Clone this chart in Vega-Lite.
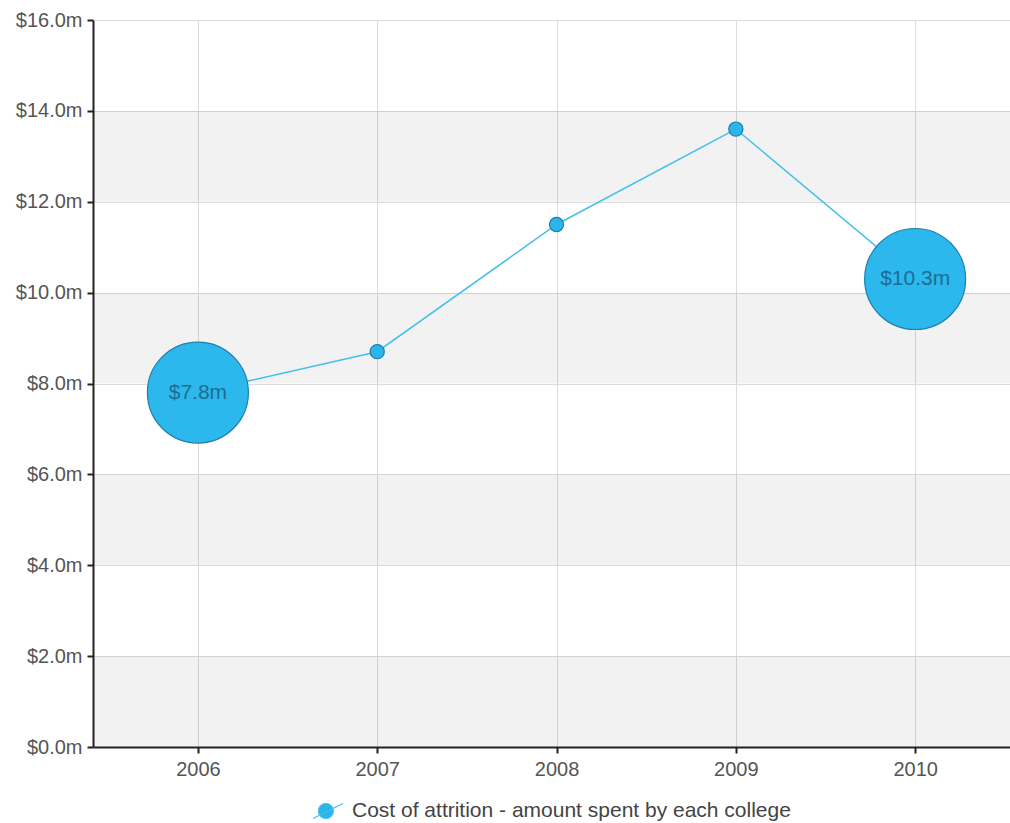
{
  "$schema": "https://vega.github.io/schema/vega-lite/v6.json",
  "width": 917,
  "height": 727,
  "autosize": "none",
  "padding": {"left": 93, "top": 20, "right": 0, "bottom": 76},
  "background": "white",
  "config": {
    "view": {"stroke": null},
    "font": "Liberation Sans",
    "axis": {
      "labelFont": "Liberation Sans",
      "labelFontSize": 20,
      "labelColor": "#555555",
      "domainColor": "#222222",
      "domainWidth": 2,
      "tickColor": "#222222",
      "tickWidth": 2,
      "tickSize": 6,
      "gridColor": "#dcdcdc",
      "gridWidth": 1,
      "title": null
    }
  },
  "datasets": {
    "main": [
      {"year": 2006, "cost": 7.8, "label": "$7.8m"},
      {"year": 2007, "cost": 8.7},
      {"year": 2008, "cost": 11.5},
      {"year": 2009, "cost": 13.6},
      {"year": 2010, "cost": 10.3, "label": "$10.3m"}
    ],
    "bands": [
      {"lo": 0, "hi": 2},
      {"lo": 4, "hi": 6},
      {"lo": 8, "hi": 10},
      {"lo": 12, "hi": 14}
    ]
  },
  "layer": [
    {
      "data": {"name": "main"},
      "mark": {"type": "point", "opacity": 0},
      "encoding": {
        "x": {
          "field": "year", "type": "quantitative",
          "scale": {"domain": [2005.415, 2010.529], "nice": false, "zero": false},
          "axis": {"values": [2006, 2007, 2008, 2009, 2010], "format": "d", "grid": true, "labelPadding": 6, "labelFlush": false}
        },
        "y": {
          "field": "cost", "type": "quantitative",
          "scale": {"domain": [0, 16], "nice": false},
          "axis": {"values": [0, 2, 4, 6, 8, 10, 12, 14, 16], "grid": true, "labelPadding": 5, "labelExpr": "'$' + format(datum.value, '.1f') + 'm'"}
        }
      }
    },
    {
      "data": {"name": "bands"},
      "mark": {"type": "rect", "color": "#000000", "opacity": 0.052},
      "encoding": {
        "y": {"field": "lo", "type": "quantitative"},
        "y2": {"field": "hi"}
      }
    },
    {
      "data": {"name": "main"},
      "mark": {"type": "line", "strokeWidth": 1.5},
      "encoding": {
        "x": {"field": "year", "type": "quantitative"},
        "y": {"field": "cost", "type": "quantitative"},
        "stroke": {
          "datum": "Cost of attrition - amount spent by each college",
          "scale": {"range": ["#45c0ea"]},
          "legend": {
            "title": null,
            "orient": "none",
            "legendX": 219,
            "legendY": 775,
            "symbolType": "M-1,0.5L1,-0.5M0.36,0A0.5,0.5 0 1,1 -0.64,0A0.5,0.5 0 1,1 0.36,0Z",
            "symbolSize": 900,
            "symbolFillColor": "#29b6ea",
            "symbolStrokeColor": "#1f8fc4",
            "symbolStrokeWidth": 1.2,
            "symbolOffset": 0,
            "labelOffset": 8,
            "labelFont": "Liberation Sans",
            "labelFontSize": 21,
            "labelColor": "#444444",
            "labelLimit": 800
          }
        }
      }
    },
    {
      "data": {"name": "main"},
      "transform": [{"filter": {"field": "year", "oneOf": [2007, 2008, 2009]}}],
      "mark": {"type": "point", "filled": true, "fill": "#2cb5e8", "stroke": "#1d7fae", "strokeWidth": 1.2, "opacity": 1, "size": 200},
      "encoding": {
        "x": {"field": "year", "type": "quantitative"},
        "y": {"field": "cost", "type": "quantitative"}
      }
    },
    {
      "data": {"name": "main"},
      "transform": [{"filter": {"field": "year", "oneOf": [2006, 2010]}}],
      "mark": {"type": "point", "filled": true, "fill": "#2cb8ec", "stroke": "#1d7fae", "strokeWidth": 1.2, "opacity": 1, "size": 10200},
      "encoding": {
        "x": {"field": "year", "type": "quantitative"},
        "y": {"field": "cost", "type": "quantitative"}
      }
    },
    {
      "data": {"name": "main"},
      "transform": [{"filter": {"field": "year", "oneOf": [2006, 2010]}}],
      "mark": {"type": "text", "fontSize": 21, "color": "#1e6d94", "font": "Liberation Sans"},
      "encoding": {
        "x": {"field": "year", "type": "quantitative"},
        "y": {"field": "cost", "type": "quantitative"},
        "text": {"field": "label"}
      }
    }
  ]
}
